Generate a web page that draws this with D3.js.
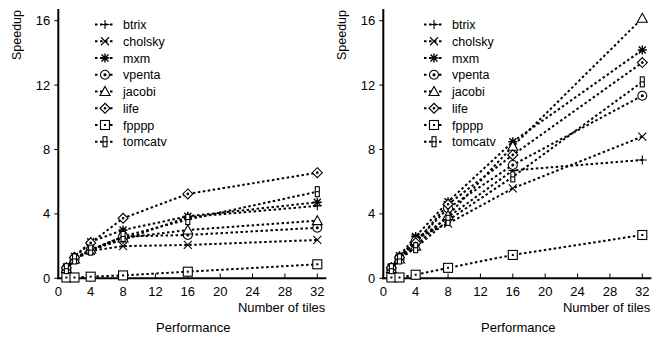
<!DOCTYPE html>
<html>
<head>
<meta charset="utf-8">
<script src="https://cdn.jsdelivr.net/npm/d3@7"></script>
<style>
  body { margin: 0; background: #fff; }
  svg { display: block; font-family: "Liberation Sans", Arial, sans-serif; }
</style>
</head>
<body>
<svg id="chart" width="663" height="339"></svg>
<script>
// x values (number of tiles) and benchmark names
const tiles = [1, 2, 4, 8, 16, 32];
const benchmarks = ["btrix", "cholsky", "mxm", "vpenta", "jacobi", "life", "fpppp", "tomcatv"];
const xTicks = [0, 4, 8, 12, 16, 20, 24, 28, 32];
const yTicks = [0, 4, 8, 12, 16];

// left panel speedups
const leftBtrix   = [0.6, 1.25, 1.75, 2.4, 3.8, 4.5];
const leftCholsky = [0.55, 1.15, 1.7, 2.0, 2.07, 2.38];
const leftMxm     = [0.7, 1.35, 2.27, 3.0, 3.85, 4.72];
const leftVpenta  = [0.5, 1.2, 1.75, 2.6, 2.69, 3.14];
const leftJacobi  = [0.6, 1.2, 1.8, 2.5, 3.0, 3.58];
const leftLife    = [0.65, 1.3, 2.2, 3.73, 5.24, 6.56];
const leftFpppp   = [0.05, 0.05, 0.1, 0.18, 0.41, 0.87];
const leftTomcatv = [0.6, 1.2, 1.75, 2.6, 3.65, 5.38];

// right panel speedups
const rightBtrix   = [0.6, 1.3, 2.3, 3.8, 6.7, 7.35];
const rightCholsky = [0.6, 1.25, 2.5, 3.4, 5.59, 8.8];
const rightMxm     = [0.7, 1.4, 2.6, 4.76, 8.48, 14.18];
const rightVpenta  = [0.55, 1.2, 2.3, 4.35, 7.04, 11.34];
const rightJacobi  = [0.6, 1.2, 2.0, 3.9, 8.2, 16.15];
const rightLife    = [0.65, 1.3, 2.2, 4.6, 7.66, 13.4];
const rightFpppp   = [0.05, 0.05, 0.22, 0.65, 1.45, 2.69];
const rightTomcatv = [0.6, 1.2, 1.9, 3.6, 6.3, 12.2];

const leftSeries = [leftBtrix, leftCholsky, leftMxm, leftVpenta, leftJacobi, leftLife, leftFpppp, leftTomcatv];
const rightSeries = [rightBtrix, rightCholsky, rightMxm, rightVpenta, rightJacobi, rightLife, rightFpppp, rightTomcatv];

const svg = d3.select("#chart");

// marker drawing, one per benchmark
function drawMarker(g, name, cx, cy) {
    const m = g.append("g").attr("transform", `translate(${cx},${cy})`)
        .attr("fill", "none").attr("stroke", "#000").attr("stroke-width", 1.1);
    if (name === "btrix") {
        m.append("path").attr("d", "M-4.5,0H4.5M0,-4.5V4.5");
    } else if (name === "cholsky") {
        m.append("path").attr("d", "M-4,-4L4,4M-4,4L4,-4");
    } else if (name === "mxm") {
        m.append("path").attr("d", "M-4.5,0H4.5M0,-4.5V4.5M-3.5,-3.5L3.5,3.5M-3.5,3.5L3.5,-3.5").attr("stroke-width", 1.4);
    } else if (name === "vpenta") {
        m.append("circle").attr("r", 4.5).attr("fill", "#fff");
        m.append("circle").attr("r", 1).attr("fill", "#000");
    } else if (name === "jacobi") {
        m.append("path").attr("d", "M0,-5L5,4H-5Z").attr("fill", "#fff");
    } else if (name === "life") {
        m.append("path").attr("d", "M0,-5L5,0L0,5L-5,0Z").attr("fill", "#fff");
        m.append("circle").attr("r", 0.8).attr("fill", "#000");
    } else if (name === "fpppp") {
        m.append("rect").attr("x", -4.5).attr("y", -4.5).attr("width", 9).attr("height", 9).attr("fill", "#fff");
        m.append("rect").attr("x", -1).attr("y", -1).attr("width", 2).attr("height", 2).attr("fill", "#000").attr("stroke", "none");
    } else if (name === "tomcatv") {
        m.append("rect").attr("x", -2).attr("y", -5).attr("width", 4).attr("height", 10).attr("fill", "#fff");
        m.append("path").attr("d", "M-2,0H2");
    }
}

function drawPanel(opts) {
    const x = d3.scaleLinear().domain([0, 32]).range([opts.x0, opts.x0 + 259]);
    const y = d3.scaleLinear().domain([0, 16]).range([278.3, 20.7]);
    const g = svg.append("g");

    // axis lines
    g.append("line").attr("x1", opts.x0).attr("x2", opts.x0).attr("y1", 9).attr("y2", 279.3)
        .attr("stroke", "#000").attr("stroke-width", 2);
    g.append("line").attr("x1", opts.x0 - 1).attr("x2", opts.x0 + 268).attr("y1", 278.3).attr("y2", 278.3)
        .attr("stroke", "#000").attr("stroke-width", 2);

    // y ticks
    yTicks.forEach(t => {
        g.append("line").attr("x1", opts.x0 - 4).attr("x2", opts.x0).attr("y1", y(t)).attr("y2", y(t))
            .attr("stroke", "#000").attr("stroke-width", 1);
        g.append("text").attr("x", opts.x0 - 8).attr("y", y(t) + 4.5)
            .attr("text-anchor", "end").attr("font-size", 13).text(t);
    });
    // x ticks
    xTicks.forEach(t => {
        g.append("line").attr("x1", x(t)).attr("x2", x(t)).attr("y1", 278.3).attr("y2", 273.5)
            .attr("stroke", "#000").attr("stroke-width", 1);
        g.append("text").attr("x", x(t)).attr("y", 296)
            .attr("text-anchor", "middle").attr("font-size", 13).text(t);
    });

    g.append("text").attr("x", opts.x0 + 267).attr("y", 312)
        .attr("text-anchor", "end").attr("font-size", 13).text("Number of tiles");
    g.append("text").attr("x", opts.x0 + 135).attr("y", 332)
        .attr("text-anchor", "middle").attr("font-size", 13).text("Performance");
    g.append("text").attr("transform", `translate(${opts.x0 - 37},35) rotate(-90)`)
        .attr("text-anchor", "middle").attr("font-size", 12.5).text("Speedup");

    // lines
    const line = d3.line().x(d => x(d[0])).y(d => y(d[1]));
    opts.series.forEach((vals, i) => {
        const pts = tiles.map((t, j) => [t, vals[j]]);
        g.append("path").attr("d", line(pts)).attr("fill", "none")
            .attr("stroke", "#000").attr("stroke-width", 2).attr("stroke-dasharray", "2.5,2.5");
    });
    opts.series.forEach((vals, i) => {
        tiles.forEach((t, j) => drawMarker(g, benchmarks[i], x(t), y(vals[j])));
    });

    // legend
    benchmarks.forEach((name, i) => {
        const ly = 24.5 + i * 16.75;
        g.append("line").attr("x1", opts.legendX - 10).attr("x2", opts.legendX + 10).attr("y1", ly).attr("y2", ly)
            .attr("stroke", "#000").attr("stroke-width", 2).attr("stroke-dasharray", "2.5,2.5");
        drawMarker(g, name, opts.legendX, ly);
        g.append("text").attr("x", opts.legendX + 18).attr("y", ly + 4.5)
            .attr("font-size", 12.5).text(name);
    });
}

drawPanel({x0: 58.3, series: leftSeries, legendX: 105});
drawPanel({x0: 383.3, series: rightSeries, legendX: 434});
</script>
</body>
</html>
